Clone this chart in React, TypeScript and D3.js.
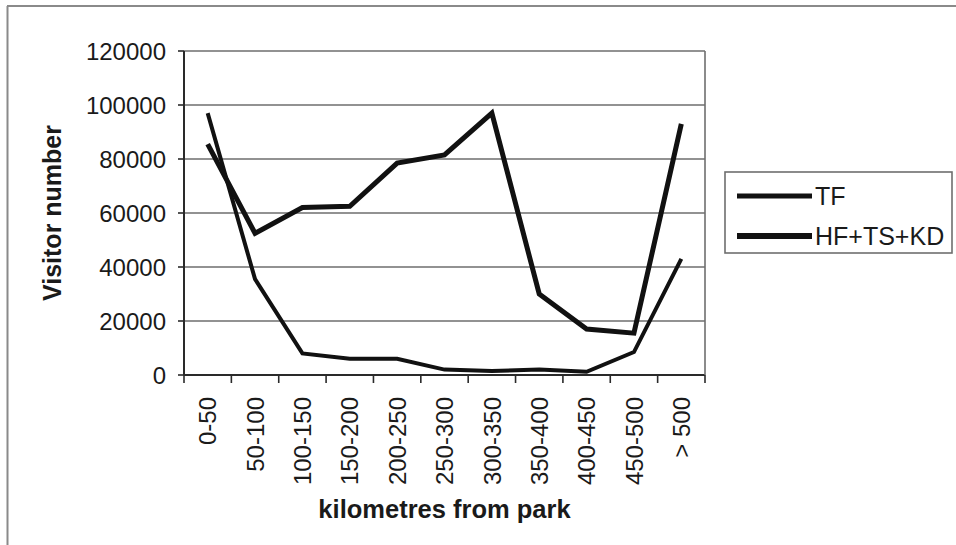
import React from "react";
import * as d3 from "d3";

// Distance bands (km from the park)
const categories = [
  "0-50", "50-100", "100-150", "150-200", "200-250", "250-300",
  "300-350", "350-400", "400-450", "450-500", "> 500",
];

// Visitor numbers per distance band
const tfValues = [97000, 35500, 8000, 6000, 6000, 2000, 1500, 2000, 1200, 8500, 43000];
const hfTsKdValues = [85500, 52500, 62000, 62500, 78500, 81500, 97000, 30000, 17000, 15500, 93000];

const yTicks = [0, 20000, 40000, 60000, 80000, 100000, 120000];

const seriesNames = ["TF", "HF+TS+KD"];

const W = 956;
const H = 545;
const plot = { left: 184, right: 705, top: 51, bottom: 375 };
const FONT = "'Liberation Sans', Arial, Helvetica, sans-serif";
const INK = "#1a1a1a";

export default function App() {
  const x = d3
    .scaleBand<string>()
    .domain(categories)
    .range([plot.left, plot.right])
    .padding(0);
  const cx = (c: string) => (x(c) as number) + x.bandwidth() / 2;

  const y = d3.scaleLinear().domain([0, 120000]).range([plot.bottom, plot.top]);

  const line = d3
    .line<number>()
    .x((_, i) => cx(categories[i]))
    .y((v) => y(v));

  const series = [
    { name: seriesNames[0], values: tfValues, width: 4 },
    { name: seriesNames[1], values: hfTsKdValues, width: 5 },
  ];

  const boundaries = [...categories.map((c) => x(c) as number), plot.right];

  return (
    <svg
      width={W}
      height={H}
      viewBox={`0 0 ${W} ${H}`}
      style={{ position: "absolute", left: 0, top: 0, background: "#fff" }}
      fontFamily={FONT}
    >
      <rect x={0} y={0} width={W} height={H} fill="#fff" />

      {/* outer chart frame (left and top edges) */}
      <line x1={7.5} y1={6} x2={7.5} y2={H} stroke="#8a8a8a" strokeWidth={2} />
      <line x1={7} y1={6} x2={W} y2={6} stroke="#8a8a8a" strokeWidth={2} />

      {/* horizontal gridlines */}
      {yTicks.map((t) => (
        <line
          key={`g${t}`}
          x1={plot.left}
          x2={plot.right}
          y1={y(t)}
          y2={y(t)}
          stroke={t === 0 ? "#2a2a2a" : "#6e6e6e"}
          strokeWidth={t === 0 ? 2 : 1.6}
        />
      ))}

      {/* plot area right edge */}
      <line x1={plot.right} x2={plot.right} y1={plot.top} y2={plot.bottom} stroke="#6e6e6e" strokeWidth={1.6} />

      {/* y axis */}
      <line x1={plot.left} x2={plot.left} y1={plot.top} y2={plot.bottom} stroke="#2a2a2a" strokeWidth={2} />
      {yTicks.map((t) => (
        <g key={`yt${t}`}>
          <line x1={plot.left - 6} x2={plot.left} y1={y(t)} y2={y(t)} stroke="#2a2a2a" strokeWidth={1.6} />
          <text
            x={166}
            y={y(t)}
            dy="0.36em"
            textAnchor="end"
            fontSize={24}
            fill={INK}
          >
            {t}
          </text>
        </g>
      ))}

      {/* x axis ticks at band boundaries */}
      {boundaries.map((b, i) => (
        <line key={`xt${i}`} x1={b} x2={b} y1={plot.bottom} y2={plot.bottom + 8} stroke="#2a2a2a" strokeWidth={1.6} />
      ))}
      {categories.map((c) => (
        <text
          key={`xl${c}`}
          transform={`translate(${cx(c)},397) rotate(-90)`}
          textAnchor="end"
          dy="0.36em"
          fontSize={24}
          fill={INK}
        >
          {c}
        </text>
      ))}

      {/* data lines */}
      {series.map((s) => (
        <path
          key={s.name}
          d={line(s.values) as string}
          fill="none"
          stroke="#111"
          strokeWidth={s.width}
          strokeLinejoin="miter"
        />
      ))}

      {/* axis titles */}
      <text
        transform={`translate(52,${(plot.top + plot.bottom) / 2}) rotate(-90)`}
        textAnchor="middle"
        dy="0.36em"
        fontSize={25}
        fontWeight="bold"
        fill={INK}
      >
        Visitor number
      </text>
      <text
        x={(plot.left + plot.right) / 2}
        y={518}
        textAnchor="middle"
        fontSize={25.5}
        fontWeight="bold"
        fill={INK}
      >
        kilometres from park
      </text>

      {/* legend */}
      <rect x={725} y={172} width={227} height={81} fill="#fff" stroke="#6e6e6e" strokeWidth={1.6} />
      {series.map((s, i) => {
        const ly = 196 + i * 40;
        return (
          <g key={`lg${s.name}`}>
            <line x1={737} x2={812} y1={ly} y2={ly} stroke="#111" strokeWidth={s.width + 1} />
            <text x={815} y={ly} dy="0.36em" fontSize={25} fill={INK}>
              {s.name}
            </text>
          </g>
        );
      })}
    </svg>
  );
}
